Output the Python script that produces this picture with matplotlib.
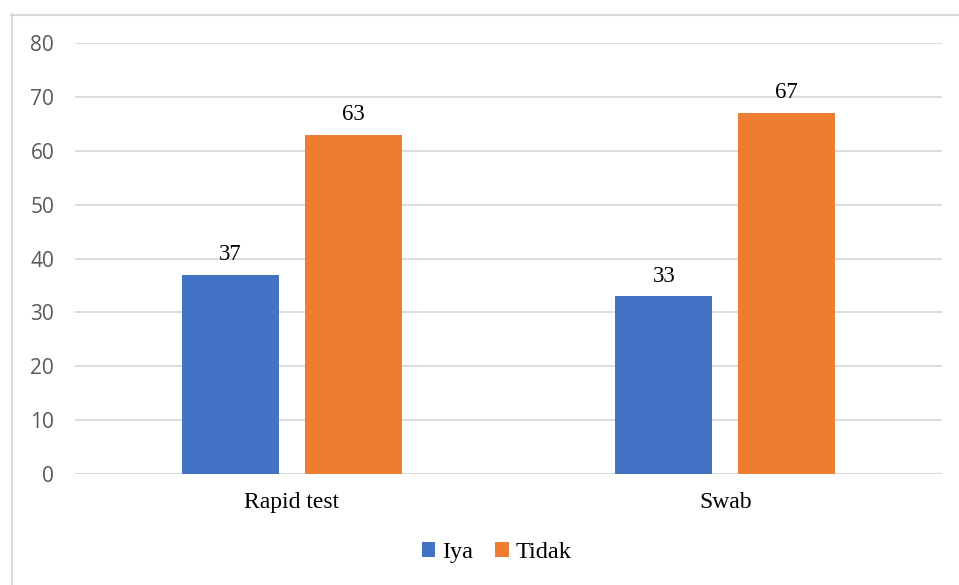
import matplotlib
matplotlib.use("Agg")
import matplotlib.pyplot as plt
import numpy as np
from matplotlib.lines import Line2D

# data
categories = ["Rapid test", "Swab"]
series_names = ["Iya", "Tidak"]
iya = [37, 33]
tidak = [63, 67]
y_ticks = [0, 10, 20, 30, 40, 50, 60, 70, 80]

blue = "#4472c4"
orange = "#ed7d31"
grid_col = "#d9d9d9"

fig = plt.figure(figsize=(9.59, 5.85), dpi=100)
ax = fig.add_axes([0.0782, 0.1897, 0.9041, 0.7368])

x = np.arange(len(categories))
w = 0.224
off = 0.1415
b1 = ax.bar(x - off, iya, w, color=blue, label=series_names[0], zorder=3)
b2 = ax.bar(x + off, tidak, w, color=orange, label=series_names[1], zorder=3)

# value labels above bars
for bars, vals in [(b1, iya), (b2, tidak)]:
    for r, v in zip(bars, vals):
        ax.annotate(str(v), (r.get_x() + r.get_width() / 2, v),
                    xytext=(0, 7), textcoords="offset points",
                    ha="center", va="bottom", fontsize=16.5,
                    family="Liberation Serif", color="black")

ax.set_xlim(-0.5, 1.5)
ax.set_ylim(0, 80)
ax.set_yticks(y_ticks)
ax.set_yticklabels([str(t) for t in y_ticks], fontsize=15,
                   family="Open Sans", color="#595959")
ax.set_xticks(x)
ax.set_xticklabels(categories, fontsize=17, family="Liberation Serif", color="black")
ax.tick_params(axis="y", length=0, pad=15)
ax.tick_params(axis="x", length=0, pad=13)
ax.yaxis.grid(True, color=grid_col, linewidth=1.3, zorder=0)
for s in ax.spines.values():
    s.set_visible(False)
ax.axhline(0, color=grid_col, linewidth=1.5, zorder=2)

# legend at the bottom
leg = fig.legend(handles=[b1, b2], labels=series_names, loc="center",
                 bbox_to_anchor=(0.518, 0.055), ncol=2, frameon=False,
                 prop={"family": "Liberation Serif", "size": 17.5},
                 handlelength=0.55, handleheight=0.55, handletextpad=0.3,
                 columnspacing=0.9)

# chart area border (top and left)
fig.add_artist(Line2D([11 / 959, 1.0], [1 - 14.5 / 585, 1 - 14.5 / 585],
                      transform=fig.transFigure, color=grid_col, linewidth=1.5))
fig.add_artist(Line2D([11.5 / 959, 11.5 / 959], [0, 1 - 14 / 585],
                      transform=fig.transFigure, color=grid_col, linewidth=1.5))

fig.savefig("out.png", dpi=100, facecolor="white")
